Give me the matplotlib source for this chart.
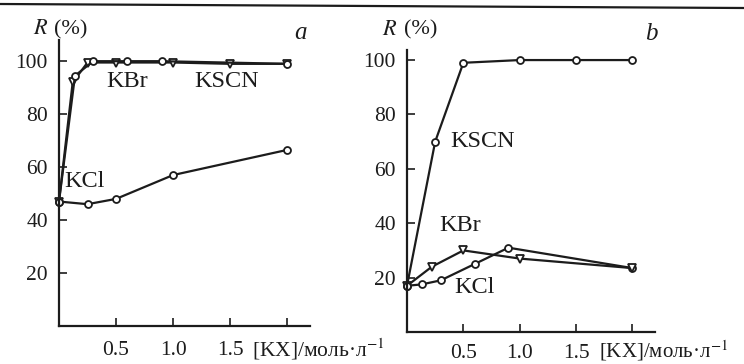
import matplotlib
matplotlib.use('Agg')
import matplotlib.pyplot as plt
from matplotlib.lines import Line2D
from matplotlib.transforms import blended_transform_factory

plt.rcParams['font.family'] = ['Liberation Serif', 'DejaVu Serif']
plt.rcParams['mathtext.fontset'] = 'stix'

# panel a
a_kscn_x = [0, 0.14, 0.3, 0.6, 0.9, 2.0]
a_kscn_y = [47, 94.5, 100, 100, 100, 99]
a_kbr_x = [0, 0.12, 0.25, 0.5, 1.0, 1.5, 2.0]
a_kbr_y = [47, 92, 99.5, 99.5, 99.5, 99, 99]
a_kcl_x = [0, 0.25, 0.5, 1.0, 2.0]
a_kcl_y = [47, 46, 48, 57, 66.5]

# panel b
b_kscn_x = [0, 0.25, 0.5, 1.0, 1.5, 2.0]
b_kscn_y = [17, 70, 99, 100, 100, 100]
b_kbr_x = [0, 0.22, 0.5, 1.0, 2.0]
b_kbr_y = [17, 24, 30, 27, 23.5]
b_kcl_x = [0, 0.13, 0.3, 0.6, 0.9, 2.0]
b_kcl_y = [17, 17.5, 19, 25, 31, 23.5]

yticks = [20, 40, 60, 80, 100]
xticks = [0.5, 1.0, 1.5, 2.0]
xticklabels = ['0.5', '1.0', '1.5', '']
xlabel = '[KX]/моль·л$^{-1}$'

ink = '#1c1c1c'
fig = plt.figure(figsize=(7.44, 3.64), dpi=100)

# scan border line on top
fig.add_artist(Line2D([0, 1], [1 - 4 / 364, 1 - 8 / 364], color=ink, lw=1.6))


def setup(ax, ymax, xpad, label_x, label_y, label_size):
    ax.set_xlim(0, 2.2)
    ax.set_ylim(0, ymax)
    for s in ['top', 'right']:
        ax.spines[s].set_visible(False)
    for s in ['left', 'bottom']:
        ax.spines[s].set_linewidth(1.6)
        ax.spines[s].set_color(ink)
    ax.set_yticks(yticks)
    ax.set_xticks(xticks)
    ax.set_xticklabels(xticklabels)
    ax.tick_params(axis='y', direction='in', length=6, width=1.2, pad=8,
                   labelsize=15.5, colors=ink)
    ax.tick_params(axis='x', direction='in', length=6, width=1.2, pad=xpad,
                   labelsize=15.5, colors=ink)
    ax.patch.set_alpha(0)
    trans = blended_transform_factory(ax.transData, ax.transAxes)
    ax.text(label_x, label_y, xlabel, transform=trans, ha='left', va='center',
            fontsize=label_size, color=ink, clip_on=False)


def series(ax, x, y, marker, ms):
    ax.plot(x, y, color=ink, lw=1.6, marker=marker, ms=ms,
            mfc='white', mec=ink, mew=1.3, clip_on=False)


lab = dict(fontsize=17.5, ha='center', va='center', color=ink)

ax1 = fig.add_axes([59 / 744, 1 - 326 / 364, 251 / 744, 286 / 364])
setup(ax1, 108, 11, 1.69, -0.08, 15.5)
series(ax1, a_kcl_x, a_kcl_y, 'o', 5)
series(ax1, a_kbr_x, a_kbr_y, 'v', 5.5)
series(ax1, a_kscn_x, a_kscn_y, 'o', 5)
ax1.text(-0.23, 112, '$R$', fontsize=16, ha='left', va='center', color=ink,
         clip_on=False)
ax1.text(-0.04, 112, '(%)', fontsize=16, ha='left', va='center', color=ink,
         clip_on=False)
ax1.text(2.12, 110.5, 'a', fontsize=18, style='italic', ha='center',
         va='center', color=ink)
ax1.text(0.6, 92.5, 'KBr', **lab)
ax1.text(1.47, 92.5, 'KSCN', **lab)
ax1.text(0.05, 54.5, 'KCl', fontsize=17.5, ha='left', va='center', color=ink)

ax2 = fig.add_axes([407 / 744, 1 - 332 / 364, 248 / 744, 282 / 364])
setup(ax2, 103.7, 9, 1.70, -0.065, 15)
series(ax2, b_kcl_x, b_kcl_y, 'o', 5)
series(ax2, b_kbr_x, b_kbr_y, 'v', 5.5)
series(ax2, b_kscn_x, b_kscn_y, 'o', 5)
ax2.text(-0.22, 111, '$R$', fontsize=16, ha='left', va='center', color=ink,
         clip_on=False)
ax2.text(-0.03, 111, '(%)', fontsize=16, ha='left', va='center', color=ink,
         clip_on=False)
ax2.text(2.17, 109.5, 'b', fontsize=18, style='italic', ha='center',
         va='center', color=ink, clip_on=False)
ax2.text(0.67, 70, 'KSCN', **lab)
ax2.text(0.47, 39, 'KBr', **lab)
ax2.text(0.6, 16.5, 'KCl', **lab)

fig.savefig('out.png', dpi=100)
